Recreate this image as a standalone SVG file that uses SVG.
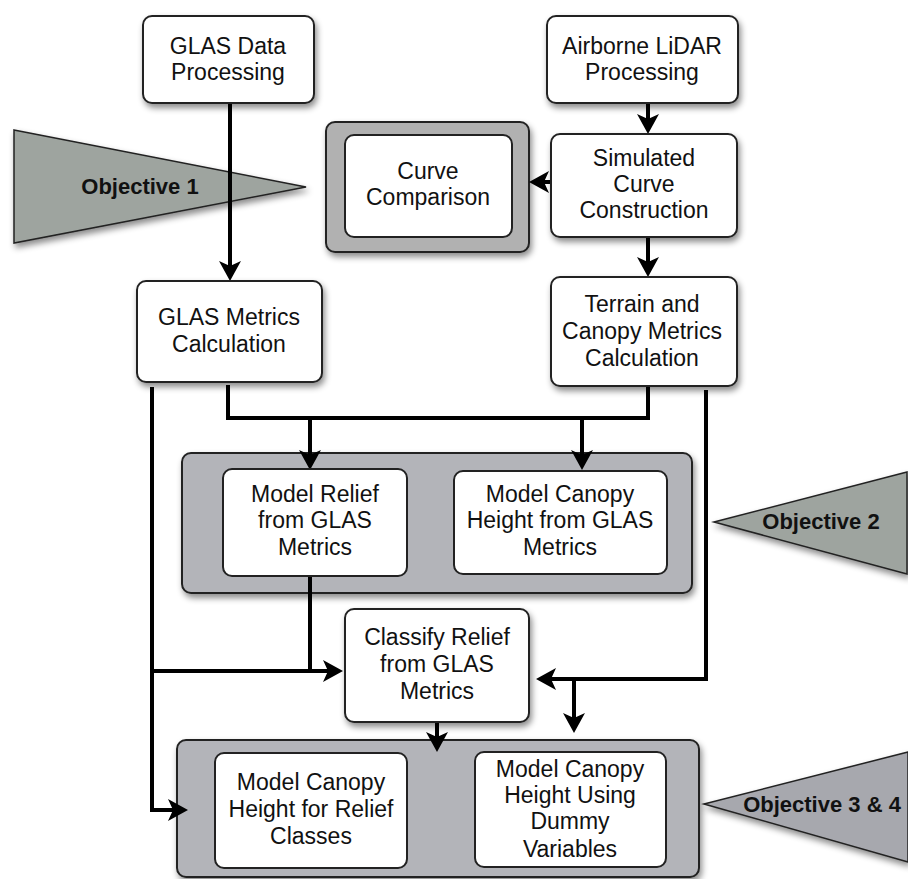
<svg xmlns="http://www.w3.org/2000/svg" width="908" height="879" viewBox="0 0 908 879">
<defs>
<filter id="sh" x="-20%" y="-20%" width="140%" height="150%">
<feDropShadow dx="2" dy="4" stdDeviation="3" flood-color="#000" flood-opacity="0.45"/>
</filter>
<marker id="ah" viewBox="0 0 20 22" markerWidth="20" markerHeight="22" refX="12" refY="11" orient="auto" markerUnits="userSpaceOnUse">
<path d="M0,0 L20,11 L0,22 L5,11 z" fill="#000"/>
</marker>
<style>
.box{fill:#fff;stroke:#222;stroke-width:2}
.grp{fill:#b3b4b9;stroke:#222;stroke-width:2}
.obj{stroke:#222;stroke-width:1.5}
.t{font-family:"Liberation Sans",Arial,sans-serif;font-size:23px;fill:#111;text-anchor:middle}
.ot{font-family:"Liberation Sans",Arial,sans-serif;font-size:22px;font-weight:bold;fill:#111;text-anchor:middle}
.c{fill:none;stroke:#000;stroke-width:4;stroke-linejoin:miter}
</style>
</defs>
<rect width="908" height="879" fill="#fff"/>

<g id="objective1">
<polygon class="obj" points="14,130 306,187 14,243" fill="#9ea49f" filter="url(#sh)"/>
<text class="ot" x="140" y="194">Objective 1</text>
</g>
<g id="objective2">
<polygon class="obj" points="714,522 907,472 907,574" fill="#9ea49f" filter="url(#sh)"/>
<text class="ot" x="821" y="529">Objective 2</text>
</g>
<g id="objective34">
<polygon class="obj" points="704,804 908,752 908,862" fill="#a7a8ae" filter="url(#sh)"/>
<text class="ot" x="822" y="812">Objective 3 &amp; 4</text>
</g>

<g id="group-curve">
<rect class="grp" x="326" y="122" width="203" height="130" rx="9" style="fill:#b1b1b1" filter="url(#sh)"/>
</g>
<g id="group-models">
<rect class="grp" x="182" y="453" width="510" height="140" rx="9" filter="url(#sh)"/>
</g>
<g id="group-canopy">
<rect class="grp" x="177" y="740" width="522" height="137" rx="9" filter="url(#sh)"/>
</g>

<g id="connectors">
<path class="c" d="M230,103 V273" marker-end="url(#ah)"/>
<path class="c" d="M648,103 V126" marker-end="url(#ah)"/>
<path class="c" d="M551,182 H537" marker-end="url(#ah)"/>
<path class="c" d="M648,237 V269" marker-end="url(#ah)"/>
<path class="c" d="M228,385 V418 H648 V385"/>
<path class="c" d="M310,418 V462" marker-end="url(#ah)"/>
<path class="c" d="M582,418 V462" marker-end="url(#ah)"/>
<path class="c" d="M152,387 V810 H180" marker-end="url(#ah)"/>
<path class="c" d="M152,671 H335" marker-end="url(#ah)"/>
<path class="c" d="M310,577 V671"/>
<path class="c" d="M706,390 V679 H544" marker-end="url(#ah)"/>
<path class="c" d="M574,679 V725" marker-end="url(#ah)"/>
<path class="c" d="M437,722 V744" marker-end="url(#ah)"/>
</g>

<g id="glas-data">
<rect class="box" x="143" y="16" width="171" height="87" rx="9" filter="url(#sh)"/>
<text class="t" x="228" y="54">GLAS Data</text>
<text class="t" x="228" y="80">Processing</text>
</g>
<g id="airborne-lidar">
<rect class="box" x="547" y="16" width="191" height="87" rx="9" filter="url(#sh)"/>
<text class="t" x="642" y="54">Airborne LiDAR</text>
<text class="t" x="642" y="80">Processing</text>
</g>
<g id="curve-comparison">
<rect class="box" x="345" y="135" width="167" height="102" rx="9"/>
<text class="t" x="428" y="179">Curve</text>
<text class="t" x="428" y="205">Comparison</text>
</g>
<g id="simulated-curve">
<rect class="box" x="551" y="134" width="186" height="103" rx="9" filter="url(#sh)"/>
<text class="t" x="644" y="166">Simulated</text>
<text class="t" x="644" y="192">Curve</text>
<text class="t" x="644" y="218">Construction</text>
</g>
<g id="glas-metrics">
<rect class="box" x="137" y="281" width="185" height="101" rx="9" filter="url(#sh)"/>
<text class="t" x="229" y="325">GLAS Metrics</text>
<text class="t" x="229" y="352">Calculation</text>
</g>
<g id="terrain-canopy">
<rect class="box" x="551" y="277" width="186" height="109" rx="9" filter="url(#sh)"/>
<text class="t" x="642" y="312">Terrain and</text>
<text class="t" x="642" y="339">Canopy Metrics</text>
<text class="t" x="642" y="366">Calculation</text>
</g>
<g id="model-relief">
<rect class="box" x="223" y="469" width="184" height="107" rx="9"/>
<text class="t" x="315" y="502">Model Relief</text>
<text class="t" x="315" y="528">from GLAS</text>
<text class="t" x="315" y="555">Metrics</text>
</g>
<g id="model-canopy-glas">
<rect class="box" x="454" y="471" width="213" height="103" rx="9"/>
<text class="t" x="560" y="502">Model Canopy</text>
<text class="t" x="560" y="528">Height from GLAS</text>
<text class="t" x="560" y="555">Metrics</text>
</g>
<g id="classify-relief">
<rect class="box" x="345" y="609" width="184" height="113" rx="9" filter="url(#sh)"/>
<text class="t" x="437" y="645">Classify Relief</text>
<text class="t" x="437" y="672">from GLAS</text>
<text class="t" x="437" y="699">Metrics</text>
</g>
<g id="model-canopy-relief">
<rect class="box" x="215" y="753" width="192" height="115" rx="9"/>
<text class="t" x="311" y="790">Model Canopy</text>
<text class="t" x="311" y="817">Height for Relief</text>
<text class="t" x="311" y="844">Classes</text>
</g>
<g id="model-canopy-dummy">
<rect class="box" x="475" y="752" width="191" height="115" rx="9"/>
<text class="t" x="570" y="777">Model Canopy</text>
<text class="t" x="570" y="803">Height Using</text>
<text class="t" x="570" y="829">Dummy</text>
<text class="t" x="570" y="857">Variables</text>
</g>
</svg>
